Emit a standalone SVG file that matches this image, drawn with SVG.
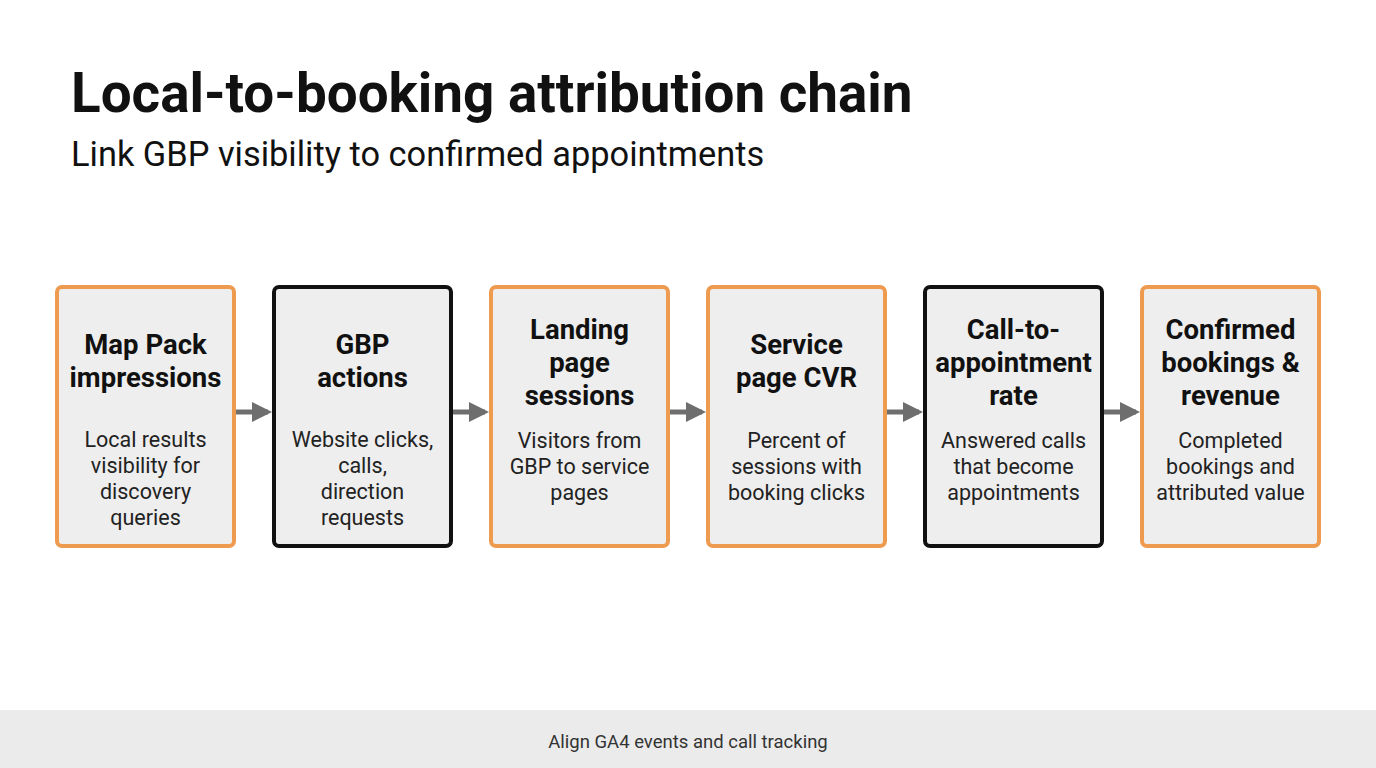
<svg xmlns="http://www.w3.org/2000/svg" width="1376" height="768" viewBox="0 0 1376 768">
<style>
.box{fill:#EEEEEE;stroke-width:4}
.o{stroke:#EE9A4F}.k{stroke:#111}
.t{font-family:Roboto,"Liberation Sans",sans-serif;font-weight:700;font-size:27.5px;fill:#111;text-anchor:middle}
.b{font-family:Roboto,"Liberation Sans",sans-serif;font-size:21.5px;fill:#222;text-anchor:middle}
.c{stroke:#6E6E6E;stroke-width:5;fill:none;marker-end:url(#a)}
</style>
<defs><marker id="a" markerWidth="4" markerHeight="4" refX="3.2" refY="2" orient="auto"><path d="M0,0 L4,2 L0,4 Z" fill="#6E6E6E"/></marker></defs>
<rect width="1376" height="768" fill="#fff"/>
<text x="71" y="112" font-family="Roboto,'Liberation Sans',sans-serif" font-weight="700" font-size="54.8" fill="#111">Local-to-booking attribution chain</text>
<text x="71" y="166" font-family="Roboto,'Liberation Sans',sans-serif" font-size="34.4" fill="#111">Link GBP visibility to confirmed appointments</text>
<g id="connectors">
<line class="c" x1="236" y1="412" x2="268" y2="412"/>
<line class="c" x1="453" y1="412" x2="485" y2="412"/>
<line class="c" x1="670" y1="412" x2="702" y2="412"/>
<line class="c" x1="887" y1="412" x2="919" y2="412"/>
<line class="c" x1="1104" y1="412" x2="1136" y2="412"/>
</g>
<g id="n1"><rect class="box o" x="57" y="287" width="177" height="259" rx="5"/>
<text class="t" x="145.5"><tspan x="145.5" y="354">Map Pack</tspan><tspan x="145.5" y="387">impressions</tspan></text>
<text class="b"><tspan x="145.5" y="447">Local results</tspan><tspan x="145.5" y="473">visibility for</tspan><tspan x="145.5" y="499">discovery</tspan><tspan x="145.5" y="525">queries</tspan></text></g>
<g id="n2"><rect class="box k" x="274" y="287" width="177" height="259" rx="5"/>
<text class="t"><tspan x="362.5" y="354">GBP</tspan><tspan x="362.5" y="387">actions</tspan></text>
<text class="b"><tspan x="362.5" y="447">Website clicks,</tspan><tspan x="362.5" y="473">calls,</tspan><tspan x="362.5" y="499">direction</tspan><tspan x="362.5" y="525">requests</tspan></text></g>
<g id="n3"><rect class="box o" x="491" y="287" width="177" height="259" rx="5"/>
<text class="t"><tspan x="579.5" y="339">Landing</tspan><tspan x="579.5" y="372">page</tspan><tspan x="579.5" y="405">sessions</tspan></text>
<text class="b"><tspan x="579.5" y="448">Visitors from</tspan><tspan x="579.5" y="474">GBP to service</tspan><tspan x="579.5" y="500">pages</tspan></text></g>
<g id="n4"><rect class="box o" x="708" y="287" width="177" height="259" rx="5"/>
<text class="t"><tspan x="796.5" y="354">Service</tspan><tspan x="796.5" y="387">page CVR</tspan></text>
<text class="b"><tspan x="796.5" y="448">Percent of</tspan><tspan x="796.5" y="474">sessions with</tspan><tspan x="796.5" y="500">booking clicks</tspan></text></g>
<g id="n5"><rect class="box k" x="925" y="287" width="177" height="259" rx="5"/>
<text class="t"><tspan x="1013.5" y="339">Call-to-</tspan><tspan x="1013.5" y="372">appointment</tspan><tspan x="1013.5" y="405">rate</tspan></text>
<text class="b"><tspan x="1013.5" y="448">Answered calls</tspan><tspan x="1013.5" y="474">that become</tspan><tspan x="1013.5" y="500">appointments</tspan></text></g>
<g id="n6"><rect class="box o" x="1142" y="287" width="177" height="259" rx="5"/>
<text class="t"><tspan x="1230.5" y="339">Confirmed</tspan><tspan x="1230.5" y="372">bookings &amp;</tspan><tspan x="1230.5" y="405">revenue</tspan></text>
<text class="b"><tspan x="1230.5" y="448">Completed</tspan><tspan x="1230.5" y="474">bookings and</tspan><tspan x="1230.5" y="500">attributed value</tspan></text></g>
<rect x="0" y="710" width="1376" height="58" fill="#EBEBEB"/>
<text x="688" y="748" text-anchor="middle" font-family="Roboto,'Liberation Sans',sans-serif" font-size="18.5" fill="#333">Align GA4 events and call tracking</text>
</svg>
